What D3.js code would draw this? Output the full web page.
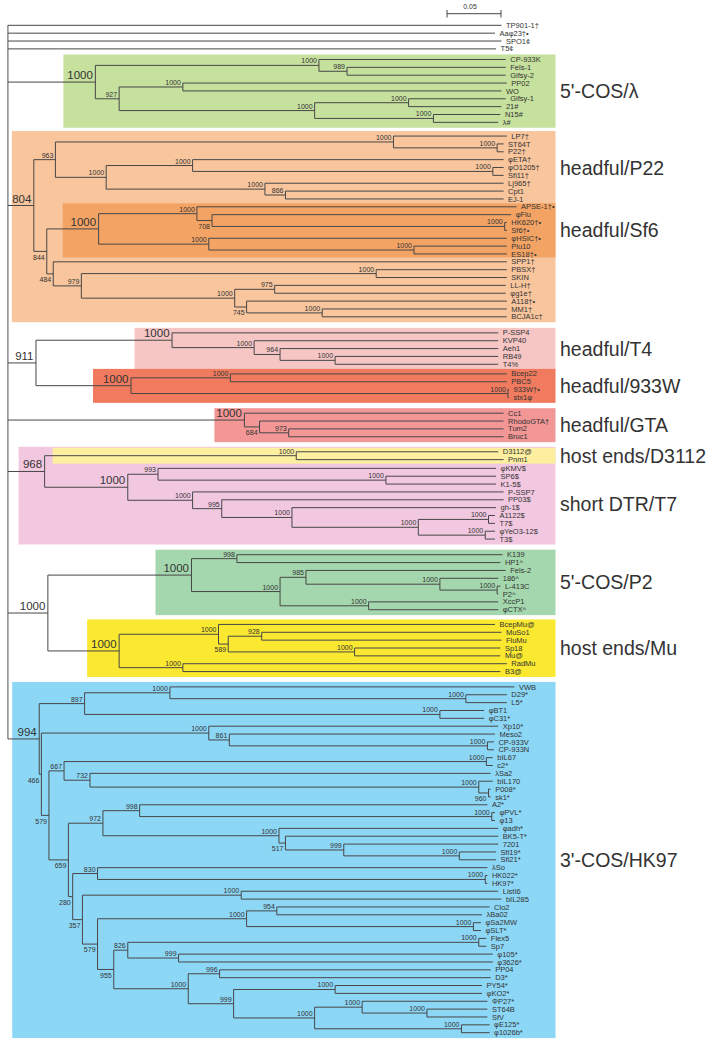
<!DOCTYPE html>
<html><head><meta charset="utf-8">
<script src="https://cdn.jsdelivr.net/npm/d3@7"></script>
<style>
body{margin:0;background:#fff}
svg{display:block}
text{font-family:"Liberation Sans",Arial,Helvetica,sans-serif;fill:#333}
</style>
</head><body>
<svg id="chart" width="720" height="1050"></svg>
<script>
// ---------- DATA: [node id / taxon, parent, distance from root (subst./site), bootstrap] ----------
const outgroupNodes = [
  ['TP901-1†','root',0.457],['Aaφ23†•','root',0.451],['SPO1¢','root',0.457],['T5¢','root',0.452]
];
const lambdaNodes = [
  ['nL','root',0.081,1000],['nL1','nL',0.288,1000],['CP-933K','nL1',0.461],
  ['nL2','nL1',0.314,989],['Fels-1','nL2',0.461],['Gifsy-2','nL2',0.461],
  ['nL3','nL',0.103,927],['nL4','nL3',0.162,1000],['PP02','nL4',0.462],['WO','nL4',0.457],
  ['nL5','nL3',0.284,1000],['nL6','nL5',0.371,1000],['Gifsy-1','nL6',0.461],['21#','nL6',0.457],
  ['nL7','nL5',0.394,1000],['N15#','nL7',0.456],['λ#','nL7',0.454]
];
const p22UpperNodes = [
  ['nP','root',0.024,804],['nP1','nP',0.044,963],['nP2','nP1',0.357,1000],['LP7†','nP2',0.462],
  ['nP3','nP2',0.453,1000],['ST64T','nP3',0.459],['P22†','nP3',0.459],
  ['nP4','nP1',0.091,1000],['nP5','nP4',0.171,1000],['φETA†','nP5',0.459],
  ['nP6','nP5',0.449,1000],['φO1205†','nP6',0.459],['Sfi11†','nP6',0.459],
  ['nP7','nP4',0.238,1000],['Lj965†','nP7',0.459],['nP8','nP7',0.257,866],['Cpt1','nP8',0.459],['EJ-1','nP8',0.459],
  ['nP9','nP',0.036,844]
];
const sf6Nodes = [
  ['nS','nP9',0.084,1000],['nS1','nS',0.175,1000],['APSE-1†•','nS1',0.471],
  ['nS2','nS1',0.189,708],['φFlu','nS2',0.466],['nS3','nS2',0.460,1000],['HK620†•','nS3',0.462],['Sf6†•','nS3',0.462],
  ['nS4','nS',0.186,1000],['φHSIC†•','nS4',0.462],['nS5','nS4',0.376,1000],['Plu10','nS5',0.462],['ES18†•','nS5',0.462]
];
const p22LowerNodes = [
  ['nP10','nP9',0.042,484],['SPP1†','nP10',0.462],['nP11','nP10',0.068,979],
  ['nP12','nP11',0.341,1000],['PBSX†','nP12',0.462],['SKIN','nP12',0.462],
  ['nP13','nP11',0.210,1000],['nP14','nP13',0.247,975],['LL-H†','nP14',0.461],['φg1e†','nP14',0.461],
  ['nP15','nP13',0.221,745],['A118†•','nP15',0.462],['nP16','nP15',0.291,1000],['MM1†','nP16',0.462],['BCJA1c†','nP16',0.462]
];
const t4Nodes = [
  ['n911','root',0.026,911],['nT','n911',0.152,1000],['P-SSP4','nT',0.454],
  ['nT1','nT',0.228,1000],['KVP40','nT1',0.454],['nT2','nT1',0.252,964],['Aeh1','nT2',0.454],
  ['nT3','nT2',0.303,1000],['RB49','nT3',0.454],['T4%','nT3',0.454]
];
const w933Nodes = [
  ['nW','n911',0.114,1000],['nW1','nW',0.206,1000],['Bcep22','nW1',0.462],['PBC5','nW1',0.462],
  ['nW2','nW',0.463,1000],['933W†•','nW2',0.464],['stx1φ','nW2',0.464]
];
const gtaNodes = [
  ['nG','root',0.219,1000],['Cc1','nG',0.459],['nG1','nG',0.233,684],['RhodoGTA†','nG1',0.459],
  ['nG2','nG1',0.260,973],['Tum2','nG2',0.459],['Bruc1','nG2',0.459]
];
const d3112Nodes = [
  ['n968','root',0.034,968],['nD','n968',0.267,1000],['D3112@','nD',0.454],['Pnm1','nD',0.459]
];
const t7Nodes = [
  ['nT7','n968',0.111,1000],['nT7a','nT7',0.139,993],['φKMV$','nT7a',0.452],
  ['nT7b','nT7a',0.350,1000],['SP6$','nT7b',0.452],['K1-5$','nT7b',0.452],
  ['nT7c','nT7',0.171,1000],['P-SSP7','nT7c',0.459],['nT7d','nT7c',0.198,995],['PP03$','nT7d',0.459],
  ['nT7e','nT7d',0.263,1000],['gh-1$','nT7e',0.452],['nT7f','nT7e',0.380,1000],
  ['nT7g','nT7f',0.445,1000],['A1122$','nT7g',0.451],['T7$','nT7g',0.451],
  ['nT7h','nT7f',0.442,1000],['φYeO3-12$','nT7h',0.451],['T3$','nT7h',0.451]
];
const p2Nodes = [
  ['nPM','root',0.037,1000],['nQ','nPM',0.170,1000],['nQ1','nQ',0.212,998],['K139','nQ1',0.458],['HP1^','nQ1',0.456],
  ['nQ2','nQ',0.252,1000],['nQ3','nQ2',0.276,985],['Fels-2','nQ3',0.461],['nQ4','nQ3',0.400,1000],['186^','nQ4',0.454],
  ['nQ5','nQ4',0.453,1000],['L-413C','nQ5',0.456],['P2^','nQ5',0.454],
  ['nQ6','nQ2',0.334,1000],['XccP1','nQ6',0.454],['φCTX^','nQ6',0.454]
];
const muNodes = [
  ['nM','nPM',0.103,1000],['nM1','nM',0.195,1000],['BcepMu@','nM1',0.451],['nM2','nM1',0.204,589],
  ['nM3','nM2',0.235,928],['MuSo1','nM3',0.457],['FluMu','nM3',0.457],
  ['nM4','nM2',0.321,1000],['Sp18','nM4',0.456],['Mu@','nM4',0.456],
  ['nM5','nM',0.162,1000],['RadMu','nM5',0.462],['B3@','nM5',0.456]
];
const hk97UpperNodes = [
  ['nH','root',0.029,994],['nH1','nH',0.071,897],['nH2','nH1',0.150,1000],['VWB','nH2',0.469],
  ['nH3','nH2',0.424,1000],['D29*','nH3',0.462],['L5*','nH3',0.462],
  ['nH4','nH1',0.400,1000],['φBT1','nH4',0.441],['φC31*','nH4',0.441],
  ['nH5','nH',0.031,466],['nH6','nH5',0.186,1000],['Xp10*','nH6',0.454],['nH7','nH6',0.205,861],['Meso2','nH7',0.451],
  ['nH8','nH7',0.444,1000],['CP-933V','nH8',0.450],['CP-933N','nH8',0.450],
  ['nH9','nH5',0.038,579],['nH10','nH9',0.052,667],['nH11','nH10',0.443,1000],['bIL67','nH11',0.449],['c2*','nH11',0.449],
  ['nH12','nH10',0.076,732],['λSa2','nH12',0.447],['nH13','nH12',0.436,1000],['bIL170','nH13',0.449],
  ['nH14','nH13',0.445,960],['P008*','nH14',0.447],['sk1*','nH14',0.447]
];
const hk97MiddleNodes = [
  ['nH15','nH9',0.056,659],['nH16','nH15',0.088,972],['nH17','nH16',0.122,998],['A2*','nH17',0.444],
  ['nH18','nH17',0.448,1000],['φPVL*','nH18',0.451],['φ13','nH18',0.451],
  ['nH19','nH16',0.251,1000],['φadh*','nH19',0.454],['nH20','nH19',0.257,517],['BK5-T*','nH20',0.454],
  ['nH21','nH20',0.311,999],['7201','nH21',0.454],['nH22','nH21',0.418,1000],['Sfi19*','nH22',0.452],['Sfi21*','nH22',0.452],
  ['nH23','nH15',0.060,280],['nH24','nH23',0.083,830],['λSo','nH24',0.444],
  ['nH25','nH24',0.442,1000],['HK022*','nH25',0.444],['HK97*','nH25',0.444],
  ['nH26','nH23',0.069,357],['nH27','nH26',0.216,1000],['ListI6','nH27',0.454],['bIL285','nH27',0.457]
];
const hk97LowerNodes = [
  ['nH28','nH26',0.083,579],['nH29','nH28',0.221,1000],['nH30','nH29',0.249,954],['Clo2','nH30',0.446],['λBa02','nH30',0.439],
  ['nH31','nH29',0.431,1000],['φSa2MW','nH31',0.438],['φSLT*','nH31',0.438],
  ['nH32','nH28',0.098,955],['nH33','nH32',0.111,826],['nH34','nH33',0.436,1000],['Flex5','nH34',0.443],['Sp7','nH34',0.443],
  ['nH35','nH33',0.158,999],['φ105*','nH35',0.449],['φ3626*','nH35',0.449],
  ['nH36','nH32',0.167,1000],['nH37','nH36',0.196,996],['PP04','nH37',0.447],['D3*','nH37',0.447],
  ['nH38','nH36',0.209,999],['nH39','nH38',0.303,1000],['PY54*','nH39',0.439],['φKO2*','nH39',0.439],
  ['nH40','nH38',0.284,1000],['nH41','nH40',0.328,1000],['ΦP27*','nH41',0.444],
  ['nH42','nH41',0.388,1000],['ST64B','nH42',0.444],['SfV','nH42',0.444],
  ['nH43','nH40',0.420,1000],['φE125*','nH43',0.446],['φ1026b*','nH43',0.446]
];
// clade groups (boxes + labels)
const groupNames = ["5'-COS/λ","headful/P22","headful/Sf6","headful/T4","headful/933W","headful/GTA",
                    "short DTR/T7","host ends/D3112","5'-COS/P2","host ends/Mu","3'-COS/HK97"];
const groupNodes = ['nL','nP','nS','nT','nW','nG','n968','nD','nQ','nM','nH'];
const groupLabelNodes = ['nL','nP1','nS','nT','nW','nG','nT7','nD','nQ','nM','nH'];
const scaleBarValue = 0.05;

// ---------- STYLE / LAYOUT ----------
const groupColors = ['#c6e09e','#f8c59d','#f3a465','#f5c6c4','#f07b5e','#f29696',
                     '#f2c8e0','#fcef9f','#a4d7ad','#fbe830','#8dd7f6'];
const boxLeftPad = {nL:32,nP:22,nS:36,nT:37.5,nW:38,nG:30,n968:26,nQ:36,nM:32,nH:27};
const boxFromParent = {nD:8};
const boxVPad = {nS:3.5,nD:4};
const gapBefore = {nL:0.35,nP:0.745,n911:1.04,nW:0.22,nG:1.0,n968:0.91,nT7:0.11,nPM:0.99,nM:0.87,nH:0.95};
const bigSupport = new Set(['nL','nP','nS','n911','nT','nW','nG','n968','nT7','nPM','nQ','nM','nH']);
const belowSupport = new Set(['nP9','nP10','nS2','nP15','nG1','nM2','nH5','nH9','nH15','nH23','nH26','nH28','nH32','nH14','nH20']);
const lineColor = '#474747';

// ---------- BUILD ----------
const rows = [['root',null,0,null]].concat(outgroupNodes, lambdaNodes, p22UpperNodes, sf6Nodes, p22LowerNodes,
  t4Nodes, w933Nodes, gtaNodes, d3112Nodes, t7Nodes, p2Nodes, muNodes, hk97UpperNodes, hk97MiddleNodes, hk97LowerNodes);
const root = d3.stratify().id(d => d[0]).parentId(d => d[1])(rows);
const byId = new Map(); root.each(n => byId.set(n.id, n));

const x = d3.scaleLinear().domain([0, 0.5]).range([7.9, 547.9]);
const leaves = root.leaves();
const gapAt = new Map();
Object.entries(gapBefore).forEach(([id, g]) => gapAt.set(byId.get(id).leaves()[0].id, g));
let slot = 0;
leaves.forEach((l, i) => { if (i > 0) slot += 1 + (gapAt.get(l.id) || 0); l.slot = slot; });
const y = d3.scaleLinear().domain([0, slot]).range([25.3, 1032.7]);
root.eachAfter(n => {
  n.px = x(n.data[2]);
  if (n.children) n.py = (n.children[0].py + n.children[n.children.length - 1].py) / 2;
  else n.py = y(n.slot);
});

const svg = d3.select('#chart');

// boxes
const gBox = svg.append('g');
groupNodes.forEach((id, i) => {
  const n = byId.get(id), lv = n.leaves();
  const vp = boxVPad[id] || 5;
  const top = lv[0].py - vp, bottom = lv[lv.length - 1].py + vp + (boxVPad[id] ? 0 : 0.4);
  const left = id in boxFromParent ? n.parent.px + boxFromParent[id] : n.px - boxLeftPad[id];
  gBox.append('rect').attr('x', left).attr('y', top).attr('width', 555.5 - left).attr('height', bottom - top)
    .attr('fill', groupColors[i]);
});

// branches
const gTree = svg.append('g').attr('fill', 'none').attr('stroke', lineColor).attr('stroke-width', 1);
root.descendants().forEach(n => {
  if (n.parent) gTree.append('line').attr('x1', n.parent.px).attr('x2', n.px).attr('y1', n.py).attr('y2', n.py);
  if (n.children) {
    gTree.append('line').attr('x1', n.px).attr('x2', n.px)
      .attr('y1', n.children[0].py).attr('y2', n.children[n.children.length - 1].py)
      .attr('stroke', n === root ? '#7a7a7a' : lineColor).attr('stroke-width', n === root ? 1.3 : 1);
  }
});

// support values
const gSup = svg.append('g');
root.descendants().forEach(n => {
  if (!n.children || n.data[3] == null) return;
  const big = bigSupport.has(n.id);
  gSup.append('text').attr('x', n.px - (big ? 2.5 : 2))
    .attr('y', big ? n.py - 3 : (belowSupport.has(n.id) ? n.py + 8.3 : n.py - 2))
    .attr('text-anchor', 'end').attr('font-size', big ? 11.5 : 7).text(n.data[3]);
});

// leaf labels
svg.append('g').selectAll('text').data(leaves).join('text')
  .attr('x', d => d.px + 4.5).attr('y', d => d.py + 2.6).attr('font-size', 7.5).text(d => d.id);

// group labels
svg.append('g').selectAll('text').data(groupNames).join('text')
  .attr('x', 560).attr('y', (d, i) => { const lv = byId.get(groupLabelNodes[i]).leaves(); return (lv[0].py + lv[lv.length - 1].py) / 2; })
  .attr('dy', '0.36em').attr('font-size', 19.5).text(d => d);

// scale bar
const sb0 = 447, sb1 = sb0 + (x(scaleBarValue) - x(0));
const gS = svg.append('g').attr('stroke', lineColor).attr('stroke-width', 1);
gS.append('line').attr('x1', sb0).attr('x2', sb1).attr('y1', 13.7).attr('y2', 13.7);
gS.append('line').attr('x1', sb0).attr('x2', sb0).attr('y1', 10).attr('y2', 17.5);
gS.append('line').attr('x1', sb1).attr('x2', sb1).attr('y1', 10).attr('y2', 17.5);
svg.append('text').attr('x', (sb0 + sb1) / 2 - 4).attr('y', 9).attr('text-anchor', 'middle').attr('font-size', 7).text(scaleBarValue);
</script>
</body></html>
